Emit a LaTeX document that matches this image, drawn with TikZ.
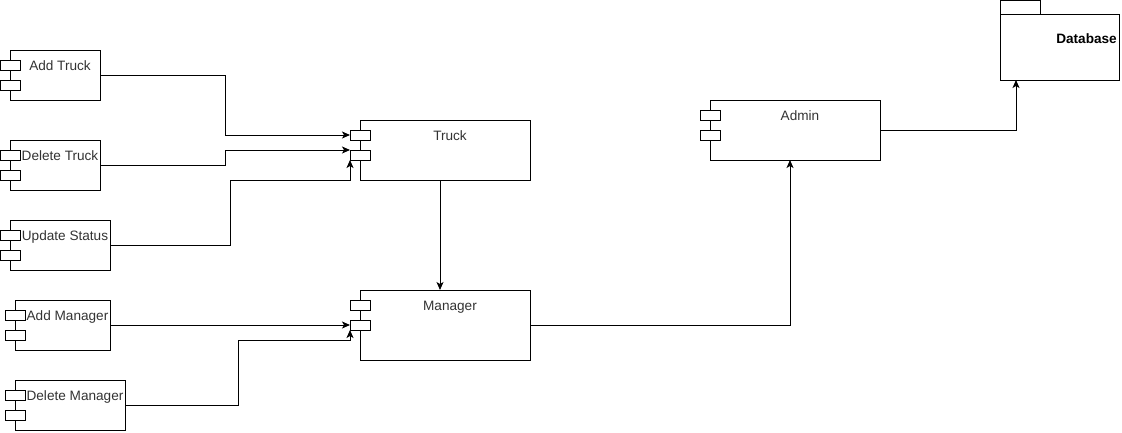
\documentclass[tikz,border=0pt]{standalone}
\usepackage{fontspec}
\setmainfont{Liberation Sans}
\usetikzlibrary{arrows.meta,calc}

% UML component: #1 name, #2..#5 box corners, #6 left x of the ports, #7 label
\newcommand\umlcomp[7]{%
  \node[box,minimum width={#4-#2},minimum height={#5-#3}] (#1) at ({(#2+#4)/2},{(#3+#5)/2}) {};
  \node[port,anchor=north west] (#1p1) at (#6,#3+10) {};
  \node[port,anchor=north west] (#1p2) at (#6,#3+30) {};
  \node[lbl] (#1t) at ({(#2+#4)/2+5},#3+20) {#7};
}

\begin{document}
\begin{tikzpicture}[x=1pt,y=-1pt,
  box/.style={draw=black,line width=1pt,fill=white,inner sep=0pt,outer sep=0pt},
  port/.style={draw=black,line width=1pt,fill=white,inner sep=0pt,outer sep=0pt,
               minimum width=20pt,minimum height=10pt},
  lbl/.style={font=\fontsize{13.6}{16}\selectfont,text=black!80,anchor=base,inner sep=0pt},
  conn/.style={line width=1pt,-{Stealth[length=8pt,width=7pt,inset=2pt]}},
]
\useasboundingbox (0,0) rectangle (1122,432);

% left-hand components
\umlcomp{addtruck}{10}{50}{100}{100}{0}{Add Truck}
\umlcomp{deltruck}{10}{140}{100}{190}{0}{Delete Truck}
\umlcomp{updstatus}{10}{220}{110}{270}{0}{Update Status}
\umlcomp{addmgr}{15}{300}{110}{350}{5}{Add Manager}
\umlcomp{delmgr}{15}{380}{125}{430}{5}{Delete Manager}

% central and right components
\umlcomp{truck}{360}{120}{530}{180}{350}{Truck}
\umlcomp{mgr}{360}{290}{530}{360}{350}{Manager}
\umlcomp{admin}{710}{100}{880}{160}{700}{Admin}

% database package
\node[box,minimum width=40pt,minimum height=14pt] (dbtab) at (1020,7) {};
\node[box,minimum width=119pt,minimum height=66pt] (db) at (1059.5,47) {};
\node[font=\fontsize{13.6}{16}\selectfont\bfseries,anchor=base east,inner sep=0pt] (dbt) at (1117,43) {Database};

% connectors
\draw[conn] (addtruck.east) -- ++(125,0) |- (truckp1.west);
\draw[conn] (deltruck.east) -- ++(125,0) |- (truckp2.north west);
\draw[conn] (updstatus.east) -- ++(120,0) |- ($(truckp2.south west)+(0,20)$) -- (truckp2.south west);
\draw[conn] (addmgr.east) -- (mgrp2.west);
\draw[conn] (delmgr.east) -- ++(113,0) |- ($(mgrp2.south west)+(0,10)$) -- (mgrp2.south west);
\draw[conn] ([xshift=-5pt]truck.south) -- ([xshift=-5pt]mgr.north);
\draw[conn] (mgr.east) -| ([xshift=-5pt]admin.south);
\draw[conn] (admin.east) -| ([xshift=16pt]db.south west);
\end{tikzpicture}
\end{document}
